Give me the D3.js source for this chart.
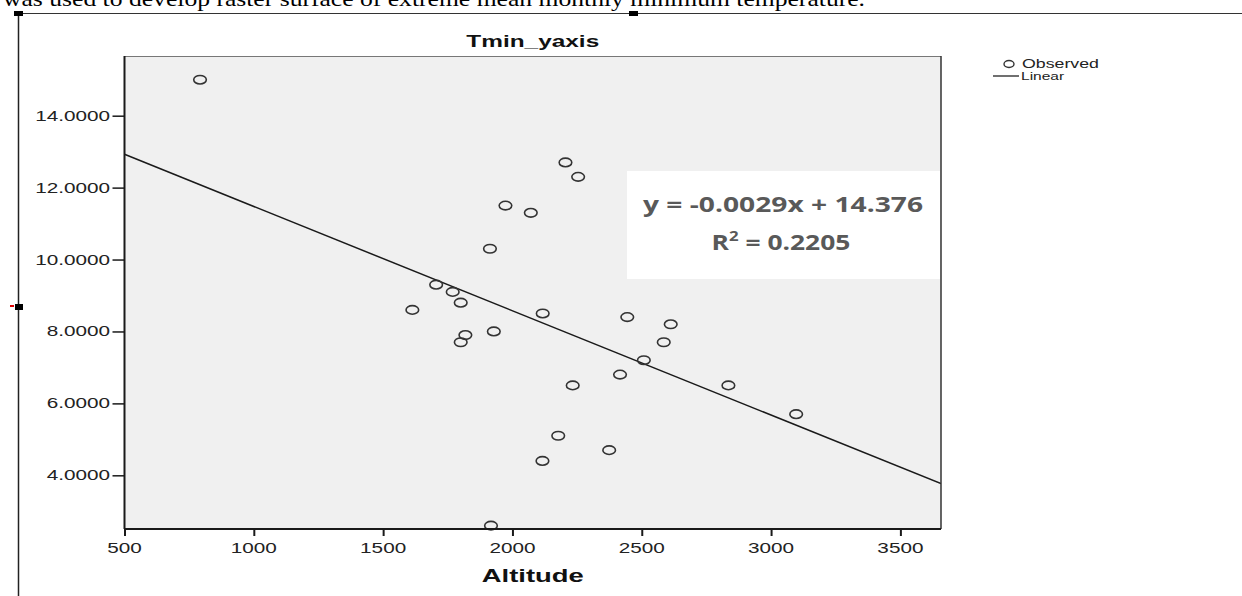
<!DOCTYPE html>
<html>
<head>
<meta charset="utf-8">
<script src="https://cdn.jsdelivr.net/npm/d3@7"></script>
<style>
  html, body { margin: 0; padding: 0; background: #fff; overflow: hidden; }
  svg { display: block; }
</style>
</head>
<body>
<svg id="chart" width="1242" height="596"></svg>
<script>
// ---- data ----
const altitude = [792, 2205, 2254, 1973, 2071, 1913, 1705, 1769, 1800, 1613, 2117, 2444, 2612,
                  1818, 1928, 1800, 2585, 2508, 2416, 2233, 2835, 3097, 2177, 2374, 2116, 1917];
const tmin = [15.0, 12.7, 12.3, 11.5, 11.3, 10.3, 9.3, 9.1, 8.8, 8.6, 8.5, 8.4, 8.2,
              7.9, 8.0, 7.7, 7.7, 7.2, 6.8, 6.5, 6.5, 5.7, 5.1, 4.7, 4.4, 2.6];
const xTicks = [500, 1000, 1500, 2000, 2500, 3000, 3500];
const yTicks = [4, 6, 8, 10, 12, 14];
const slope = -0.0029;
const intercept = 14.376;
const rSquared = "0.2205";
const chartTitle = "Tmin_yaxis";
const xTitle = "Altitude";
const legendLabels = ["Observed", "Linear"];
const pageText = "was used to develop raster surface of extreme mean monthly minimum temperature.";

// ---- layout ----
const svg = d3.select("#chart");
const L = 124.5, R = 941, T = 56, B = 529;
const SX = 1.48; // horizontal stretch of the original picture
const x = d3.scaleLinear().domain([500, 3657]).range([L, R]);
const y = d3.scaleLinear().domain([2.507, 15.66]).range([B, T]);

function stext(g, px, py, str, opts) {
  const t = g.append("text")
    .attr("transform", `translate(${px},${py}) scale(${opts.sx || SX},1)`)
    .attr("text-anchor", opts.anchor || "start")
    .attr("font-family", opts.family || "'Liberation Sans', Arial, sans-serif")
    .attr("font-size", opts.size)
    .attr("font-weight", opts.weight || "normal")
    .attr("fill", opts.fill || "#1a1a1a")
    .text(str);
  return t;
}

// page text (cut at top, as in the source document)
svg.append("text")
  .attr("x", 3).attr("y", 6)
  .attr("font-family", "'Liberation Serif', 'Times New Roman', serif")
  .attr("font-size", 21)
  .attr("textLength", 862)
  .attr("lengthAdjust", "spacingAndGlyphs")
  .attr("fill", "#000")
  .text(pageText);

// frame of the embedded object
svg.append("line").attr("x1", 18).attr("x2", 1242).attr("y1", 13.5).attr("y2", 13.5)
  .attr("stroke", "#333").attr("stroke-width", 1);
svg.append("line").attr("x1", 18.5).attr("x2", 18.5).attr("y1", 13).attr("y2", 596)
  .attr("stroke", "#222").attr("stroke-width", 1.5);
svg.append("rect").attr("x", 14).attr("y", 11).attr("width", 9).attr("height", 5).attr("fill", "#000");
svg.append("rect").attr("x", 629).attr("y", 11).attr("width", 9).attr("height", 5).attr("fill", "#000");
svg.append("rect").attr("x", 15).attr("y", 304).attr("width", 8).attr("height", 6).attr("fill", "#000");
svg.append("rect").attr("x", 10).attr("y", 305).attr("width", 4).attr("height", 2).attr("fill", "#e00000");

// title
stext(svg, (L + R) / 2, 47, chartTitle, {anchor: "middle", size: 16.5, weight: "bold", fill: "#111"});

// plot background
svg.append("rect").attr("x", L).attr("y", T).attr("width", R - L).attr("height", B - T)
  .attr("fill", "#f0f0f0").attr("stroke", "none");

// regression line
const plot = svg.append("g");
plot.append("defs").append("clipPath").attr("id", "clip")
  .append("rect").attr("x", L).attr("y", T).attr("width", R - L).attr("height", B - T);
const xd = x.domain();
plot.append("line")
  .attr("clip-path", "url(#clip)")
  .attr("x1", x(xd[0])).attr("y1", y(slope * xd[0] + intercept))
  .attr("x2", x(xd[1])).attr("y2", y(slope * xd[1] + intercept))
  .attr("stroke", "#1a1a1a").attr("stroke-width", 1.5);

// points
plot.selectAll("ellipse.pt").data(altitude.map((a, i) => [a, tmin[i]]))
  .join("ellipse").attr("class", "pt")
  .attr("cx", d => x(d[0])).attr("cy", d => y(d[1]))
  .attr("rx", 6.3).attr("ry", 4.3)
  .attr("fill", "none").attr("stroke", "#333").attr("stroke-width", 1.6);

// equation box
svg.append("rect").attr("x", 627).attr("y", 171).attr("width", 313).attr("height", 108).attr("fill", "#fff");
svg.append("text")
  .attr("x", 783).attr("y", 212)
  .attr("text-anchor", "middle")
  .attr("font-family", "'Open Sans', 'Liberation Sans', sans-serif")
  .attr("font-weight", "bold").attr("font-size", 22)
  .attr("textLength", 280).attr("lengthAdjust", "spacingAndGlyphs")
  .attr("fill", "#595959")
  .text(`y = ${slope}x + ${intercept}`);
const r2 = svg.append("text")
  .attr("transform", "translate(781,250) scale(1.2,1)")
  .attr("text-anchor", "middle")
  .attr("font-family", "'Open Sans', 'Liberation Sans', sans-serif")
  .attr("font-weight", "bold").attr("font-size", 22)
  .attr("fill", "#595959");
r2.append("tspan").text("R");
r2.append("tspan").attr("dy", -9).attr("font-size", 14).text("2");
r2.append("tspan").attr("dy", 9).text(` = ${rSquared}`);

// plot border
svg.append("line").attr("x1", L).attr("x2", R).attr("y1", T + 0.5).attr("y2", T + 0.5)
  .attr("stroke", "#777").attr("stroke-width", 1);
svg.append("line").attr("x1", R).attr("x2", R).attr("y1", T).attr("y2", B)
  .attr("stroke", "#333").attr("stroke-width", 1.5);

// axes
const yAxis = svg.append("g").attr("transform", `translate(${L},0)`)
  .call(d3.axisLeft(y).tickValues(yTicks).tickSize(12).tickFormat(() => ""));
yAxis.select(".domain").attr("stroke", "#1a1a1a").attr("stroke-width", 2)
  .attr("d", `M0,${T}V${B}`);
yAxis.selectAll(".tick line").attr("stroke", "#1a1a1a").attr("stroke-width", 1.5);
yTicks.forEach(v => stext(svg, 110, y(v) + 5, d3.format(".4f")(v), {anchor: "end", size: 14, fill: "#222"}));

const xAxis = svg.append("g").attr("transform", `translate(0,${B})`)
  .call(d3.axisBottom(x).tickValues(xTicks).tickSize(7).tickFormat(() => ""));
xAxis.select(".domain").attr("stroke", "#1a1a1a").attr("stroke-width", 2)
  .attr("d", `M${L},0H${R}`);
xAxis.selectAll(".tick line").attr("stroke", "#1a1a1a").attr("stroke-width", 2);
xTicks.forEach(v => stext(svg, x(v), 553, String(v), {anchor: "middle", size: 14, fill: "#222"}));

// x title
stext(svg, (L + R) / 2, 582, xTitle, {anchor: "middle", size: 18.5, weight: "bold", fill: "#111"});

// legend
svg.append("ellipse").attr("cx", 1009).attr("cy", 64).attr("rx", 5).attr("ry", 3.5)
  .attr("fill", "none").attr("stroke", "#333").attr("stroke-width", 1.4);
stext(svg, 1022, 68, legendLabels[0], {size: 12, fill: "#222"});
svg.append("line").attr("x1", 993).attr("x2", 1019).attr("y1", 76).attr("y2", 76)
  .attr("stroke", "#222").attr("stroke-width", 1.3);
stext(svg, 1021, 80, legendLabels[1], {size: 11.5, sx: 1.35, fill: "#222"});
</script>
</body>
</html>
